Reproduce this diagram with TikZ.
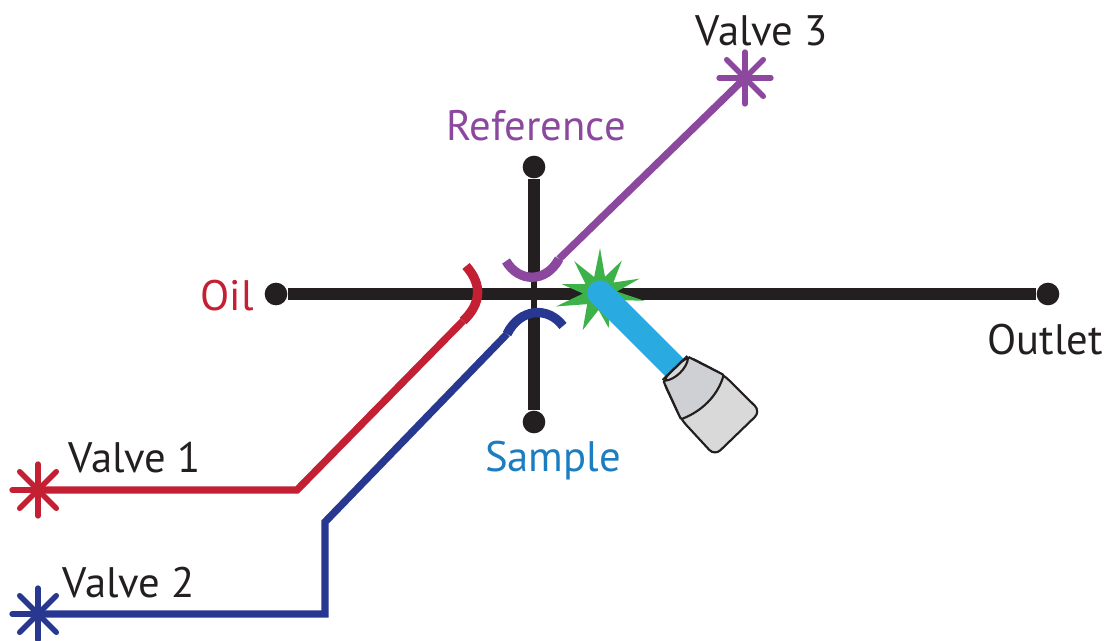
\documentclass[tikz,border=0pt]{standalone}
\usepackage{fontspec}
\setmainfont{PT Sans}

\definecolor{ink}{RGB}{35,31,32}
\definecolor{oilred}{RGB}{196,32,52}
\definecolor{valveblue}{RGB}{40,56,145}
\definecolor{refpurple}{RGB}{140,72,158}
\definecolor{sampleblue}{RGB}{28,125,192}
\definecolor{flashgreen}{RGB}{62,178,74}
\definecolor{beamcyan}{RGB}{41,171,226}
\definecolor{nozzlegray}{RGB}{207,208,211}
\definecolor{nozzlelight}{RGB}{217,217,217}

\tikzset{every picture/.style={line width=0.75pt}}
\tikzset{
  chan/.style={draw=ink, line width=8.5pt},
  neck/.style={draw=ink, line width=4pt},
  port/.style={circle, fill=ink, minimum size=17pt, inner sep=0pt},
  tube/.style={line width=5.5pt, line join=miter},
  lip/.style={line width=7pt},
  spoke/.style={line width=4pt, line cap=round},
  lbl/.style={anchor=base, font=\fontsize{32}{38}\selectfont},
  valve/.pic={\foreach \a in {0,45,90,135} \draw[spoke] (\a:26) -- (\a+180:26);},
}

\begin{document}
\begin{tikzpicture}[x=0.75pt,y=0.75pt,yscale=-1]
  \useasboundingbox (0,0) rectangle (1108,641);

  %Ports: Circles
  \node[port] (oilin) at (276,294) {};
  \node[port] (outlet) at (1048,294) {};
  \node[port] (refin) at (534,167) {};
  \node[port] (samplein) at (534,422) {};
  \coordinate (neckT) at (534,281);
  \coordinate (neckB) at (534,309);

  %Straight Lines: cross
  \draw[chan] (oilin) -- (outlet);
  \draw[chan] (refin) -- (neckT);
  \draw[neck] (neckT) -- (neckB);
  \draw[chan] (neckB) -- (samplein);

  % valves and bends
  \coordinate (v1) at (38,490);
  \coordinate (v2) at (38,614);
  \coordinate (v3) at (745,78);
  \coordinate (bend1) at (297,490);
  \coordinate (bend2b) at (325,614);
  \coordinate (bend2a) at (325,522);
  \coordinate (oilend) at (463,321);
  \coordinate (sampend) at (507,334);
  \coordinate (refend) at (559,259);

  %Oil line
  \draw[tube,oilred] (v1) -- (bend1) -- (oilend);
  \draw[lip,oilred] (oilend) .. controls (482,303) and (482,284) .. (466,266);
  \pic[oilred] at (v1) {valve};

  %Sample line
  \draw[tube,valveblue] (v2) -- (bend2b) -- (bend2a) -- (sampend);
  \draw[lip,valveblue] (sampend) .. controls (520,308) and (548,306) .. (563,326);
  \pic[valveblue] at (v2) {valve};

  %Reference line
  \draw[tube,refpurple] (v3) -- (refend);
  \draw[lip,refpurple] (506,261) .. controls (519,283) and (546,283) .. (refend);
  \pic[refpurple] at (v3) {valve};

  %Flash
  \coordinate (flash) at (600,293);
  \coordinate (nozzle) at (675,368);
  \begin{scope}[shift={(flash)}]
    \fill[flashgreen] (163:46) \foreach \a/\r in {139/17,115/41,95/17,76/36,57/17,39/38,24/17,10/45,-5/17,-20/42,-38/17,-56/39,-73/17,-90/45,-110/17,-129/41,-148/17,-167/39,178/17} {-- (\a:\r)} -- cycle;
  \end{scope}

  %Beam
  \draw[beamcyan, line width=19pt, line cap=round] (flash) -- (nozzle);

  %Nozzle
  \begin{scope}[shift={(nozzle)}, rotate=46, scale=1.08]
    \filldraw[fill=nozzlelight, draw=ink, line width=1.6pt, rounded corners=6pt]
      (0,-16) -- (0,16) -- (38,29) -- (84,30) -- (84,-29) -- (36,-28) -- cycle;
    \filldraw[fill=nozzlegray, draw=ink, line width=1.6pt, rounded corners=1pt]
      (1,-16) .. controls (8,-8) and (8,8) .. (1,16) -- (38,29)
      .. controls (46,10) and (46,-10) .. (36,-28) -- cycle;
    \draw[ink, line width=1.6pt, rounded corners=4pt] (0,16) -- (0,-16);
  \end{scope}

  % Text Node
  \node[lbl, text=ink] (v3lbl) at (762,46) {Valve 3};
  % Text Node
  \node[lbl, text=refpurple] (reflbl) at (536,141) {Reference};
  % Text Node
  \node[lbl, text=oilred] (oillbl) at (227,311) {Oil};
  % Text Node
  \node[lbl, text=ink] (outlbl) at (1045,355) {Outlet};
  % Text Node
  \node[lbl, text=sampleblue] (samplbl) at (553,472) {Sample};
  % Text Node
  \node[lbl, text=ink] (v1lbl) at (135,473) {Valve 1};
  % Text Node
  \node[lbl, text=ink] (v2lbl) at (129,598) {Valve 2};
\end{tikzpicture}
\end{document}
